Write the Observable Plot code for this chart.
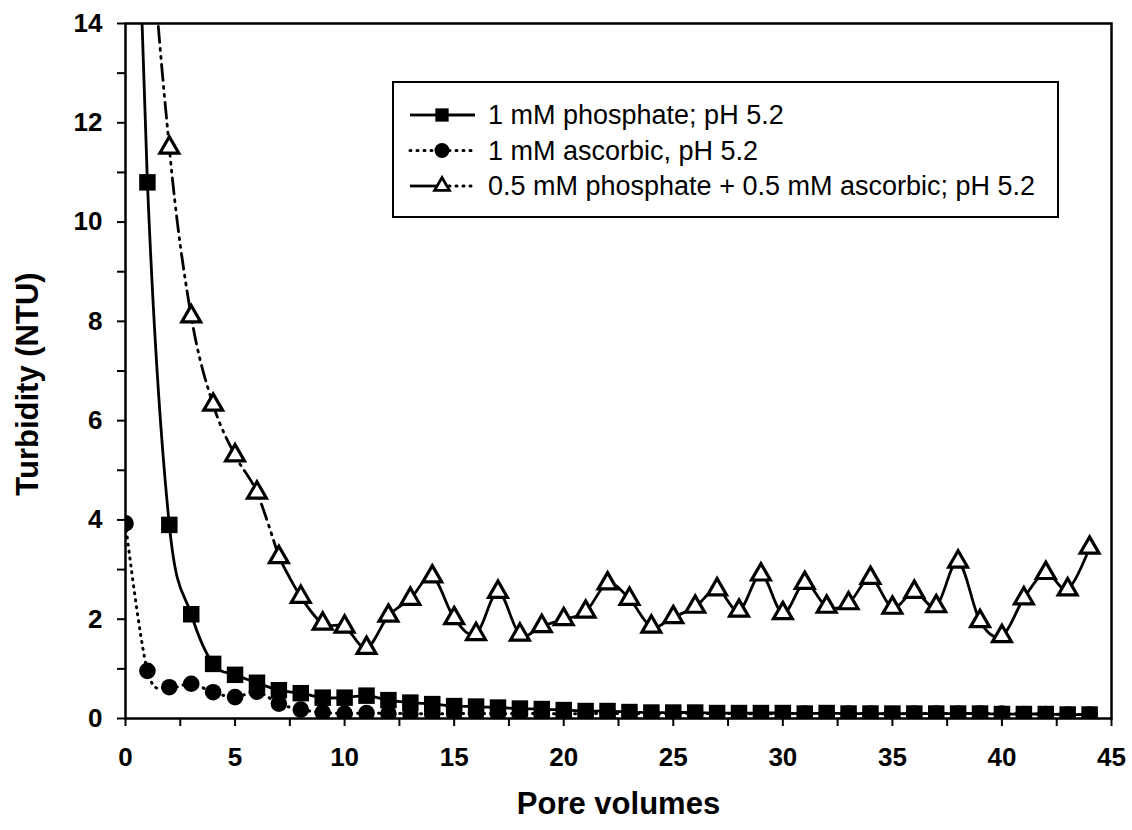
<!DOCTYPE html>
<html><head><meta charset="utf-8">
<script src="https://cdn.jsdelivr.net/npm/d3@7"></script>
<script src="https://cdn.jsdelivr.net/npm/@observablehq/plot@0.6"></script>
<style>
body{margin:0;background:#fff;}
#wrap{position:relative;width:1132px;height:830px;font-family:"Liberation Sans",Arial,sans-serif;}
#legend{position:absolute;left:392px;top:81px;}
</style></head><body><div id="wrap"></div>
<script>
// ---- data ----
const poreVolumes = [0,1,2,3,4,5,6,7,8,9,10,11,12,13,14,15,16,17,18,19,20,21,22,23,24,25,26,27,28,29,30,31,32,33,34,35,36,37,38,39,40,41,42,43,44];
const phosphate = [25,10.8,3.9,2.1,1.1,0.88,0.72,0.57,0.51,0.42,0.42,0.46,0.37,0.32,0.29,0.25,0.24,0.22,0.2,0.19,0.17,0.15,0.15,0.13,0.12,0.12,0.12,0.11,0.11,0.11,0.11,0.1,0.11,0.1,0.1,0.1,0.1,0.1,0.1,0.1,0.09,0.09,0.09,0.08,0.08];
const ascorbic = [3.93,0.96,0.63,0.7,0.53,0.43,0.54,0.3,0.18,0.12,0.1,0.11,0.1,0.1,0.09,0.1,0.1,0.1,0.1,0.1,0.09,0.1,0.1,0.1,0.09,0.1,0.1,0.1,0.1,0.09,0.1,0.1,0.1,0.1,0.1,0.09,0.1,0.1,0.1,0.1,0.1,0.09,0.09,0.08,0.08];
const mixed = [30,17.5,11.5,8.1,6.32,5.3,4.55,3.25,2.45,1.91,1.85,1.42,2.07,2.41,2.86,2.02,1.7,2.55,1.69,1.86,2.0,2.15,2.72,2.41,1.85,2.04,2.25,2.6,2.17,2.9,2.12,2.73,2.25,2.32,2.83,2.23,2.55,2.26,3.16,1.96,1.66,2.42,2.93,2.6,3.44];
const seriesLabels = ["1 mM phosphate; pH 5.2", "1 mM ascorbic, pH 5.2", "0.5 mM phosphate + 0.5 mM ascorbic; pH 5.2"];
const xTicks = [0,2.5,5,7.5,10,12.5,15,17.5,20,22.5,25,27.5,30,32.5,35,37.5,40,42.5,45];
const yTicks = [0,1,2,3,4,5,6,7,8,9,10,11,12,13,14];
const xTitle = "Pore volumes";
const yTitle = "Turbidity (NTU)";

const rows = (ys) => poreVolumes.map((x, i) => ({x, y: ys[i]}));
const phos = rows(phosphate), asc = rows(ascorbic), mix = rows(mixed);
const mixEarly = mix.filter(d => d.x <= 7), mixLate = mix.filter(d => d.x >= 7);

const chart = Plot.plot({
  width: 1132, height: 830,
  marginLeft: 125, marginRight: 21, marginTop: 23, marginBottom: 112,
  style: {fontFamily: "Liberation Sans, Arial, sans-serif", background: "white", overflow: "visible", color: "black"},
  x: {domain: [0, 45]},
  y: {domain: [0, 14]},
  marks: [
    Plot.axisX(xTicks, {tickSize: 8, tickPadding: 21, fontSize: 26, fontWeight: "bold", strokeWidth: 2, tickFormat: d => d % 5 === 0 ? d : "", label: null}),
    Plot.axisY(yTicks, {tickSize: 8, tickPadding: 15, fontSize: 26, fontWeight: "bold", strokeWidth: 2, tickFormat: d => d % 2 === 0 ? d : "", label: null}),
    Plot.text([xTitle], {frameAnchor: "bottom", dy: 95, fontSize: 31, fontWeight: "bold"}),
    Plot.text([yTitle], {frameAnchor: "left", textAnchor: "middle", dx: -97, dy: 13, rotate: -90, fontSize: 31, fontWeight: "bold"}),
    Plot.line(asc, {x: "x", y: "y", curve: "cardinal", stroke: "black", strokeWidth: 3, strokeDasharray: "1,6", strokeLinecap: "round", clip: true}),
    Plot.line(phos, {x: "x", y: "y", curve: "cardinal", stroke: "black", strokeWidth: 2.8, clip: true}),
    Plot.line(mixEarly, {x: "x", y: "y", curve: "cardinal", stroke: "black", strokeWidth: 2.8, strokeDasharray: "16,6,2,6,2,6", clip: true}),
    Plot.line(mixLate, {x: "x", y: "y", curve: "cardinal", stroke: "black", strokeWidth: 2.8, clip: true}),
    Plot.dot(asc, {x: "x", y: "y", symbol: "circle", r: 8.3, fill: "black", clip: true}),
    Plot.dot(phos, {x: "x", y: "y", symbol: "square", r: 9.3, fill: "black", clip: true}),
    Plot.dot(mix, {x: "x", y: "y", symbol: "triangle", r: 7, fill: "white", stroke: "black", strokeWidth: 3.2, clip: true}),
    Plot.frame({stroke: "black", strokeWidth: 2.5})
  ]
});
const wrap = document.getElementById("wrap");
wrap.appendChild(chart);

// ---- legend ----
const lw = 667, lh = 137;
const leg = d3.select(wrap).append("svg").attr("id", "legend").attr("width", lw).attr("height", lh)
  .style("font-family", "Liberation Sans, Arial, sans-serif");
leg.append("rect").attr("x", 1).attr("y", 1).attr("width", lw - 2).attr("height", lh - 2)
  .attr("fill", "white").attr("stroke", "black").attr("stroke-width", 2);
const legStyles = [
  {symbol: d3.symbolSquare, r: 7.5, fill: "black", stroke: "none", left: null, right: null},
  {symbol: d3.symbolCircle, r: 7.5, fill: "black", stroke: "none", left: "1,6", right: "1,6"},
  {symbol: d3.symbolTriangle, r: 5.5, fill: "white", stroke: "black", left: null, right: "1,6"}
];
seriesLabels.forEach((lab, i) => {
  const cy = 34 + i * 35.5;
  const st = legStyles[i];
  const g = leg.append("g");
  g.append("line").attr("x1", 18).attr("x2", 50).attr("y1", cy).attr("y2", cy)
    .attr("stroke", "black").attr("stroke-width", i === 1 ? 3 : 2.8)
    .attr("stroke-dasharray", st.left).attr("stroke-linecap", st.left ? "round" : "butt");
  g.append("line").attr("x1", 50).attr("x2", 83).attr("y1", cy).attr("y2", cy)
    .attr("stroke", "black").attr("stroke-width", i === 0 ? 2.8 : 3)
    .attr("stroke-dasharray", st.right).attr("stroke-linecap", st.right ? "round" : "butt");
  g.append("path").attr("transform", `translate(50,${cy})`)
    .attr("d", d3.symbol(st.symbol, Math.PI * st.r * st.r)())
    .attr("fill", st.fill).attr("stroke", st.stroke).attr("stroke-width", 2.8);
  g.append("text").attr("x", 96).attr("y", cy).attr("dy", "0.35em")
    .attr("font-size", 27).text(lab);
});
</script>
</body></html>
